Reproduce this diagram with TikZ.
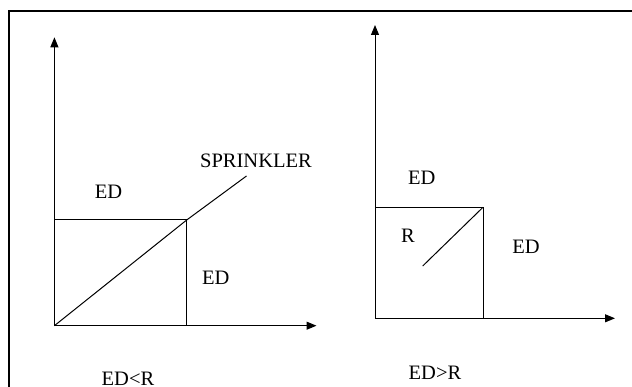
\documentclass[tikz,border=0pt]{standalone}
\usepackage{fontspec}
\setmainfont{Liberation Serif}
\usetikzlibrary{arrows.meta}
\begin{document}
\begin{tikzpicture}[x=1pt,y=-1pt,
  axis/.style={line width=1pt,-{Triangle[length=10pt,width=8pt]}},
  thin line/.style={line width=1pt},
  frame line/.style={line width=2pt},
  lbl/.style={anchor=base,inner sep=0pt,font=\fontsize{20.5}{24}\selectfont}]
\useasboundingbox (0,0) rectangle (632,387);
% frame
\coordinate (fTR) at (640,10.7);
\coordinate (fTL) at (8.9,10.7);
\coordinate (fBL) at (8.9,395);
\draw[frame line] (fTR) -- (fTL) -- (fBL);
% left diagram
\coordinate (O1) at (54.4,325.7);
\coordinate (Y1) at (54.4,37.3);
\coordinate (X1) at (316.5,325.7);
\coordinate (B1top) at (54.4,220);
\coordinate (C1) at (186.7,220);
\coordinate (B1bot) at (186.7,325.7);
\coordinate (S1) at (246.5,176);
\draw[axis] (O1) -- (Y1);
\draw[axis] (O1) -- (X1);
\draw[thin line] (B1top) -- (C1) -- (B1bot);
\draw[thin line] (O1) -- (C1) -- (S1);
\node[lbl] (ed1a) at (108.5,198.3) {ED};
\node[lbl] (ed1b) at (215.7,285) {ED};
\node[lbl] (spr) at (256,168) {SPRINKLER};
\node[lbl] (cap1) at (128,385) {ED<R};
% right diagram
\coordinate (O2) at (375,318.3);
\coordinate (Y2) at (375,25);
\coordinate (X2) at (615,318.3);
\coordinate (B2top) at (375,207.3);
\coordinate (C2) at (483,207.3);
\coordinate (B2bot) at (483,318.3);
\coordinate (D2) at (422.7,266);
\draw[axis] (O2) -- (Y2);
\draw[axis] (O2) -- (X2);
\draw[thin line] (B2top) -- (C2) -- (B2bot);
\draw[thin line] (D2) -- (C2);
\node[lbl] (ed2a) at (421.8,185) {ED};
\node[lbl] (r2) at (408,242.7) {R};
\node[lbl] (ed2b) at (526,253.3) {ED};
\node[lbl] (cap2) at (435,379) {ED>R};
\end{tikzpicture}
\end{document}
